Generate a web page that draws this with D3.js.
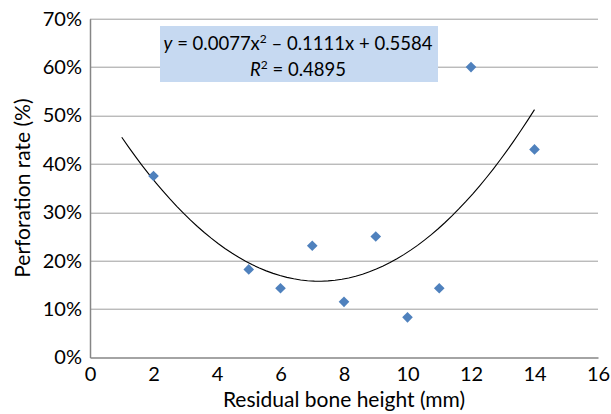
<!DOCTYPE html>
<html>
<head>
<meta charset="utf-8">
<script src="https://cdn.jsdelivr.net/npm/d3@7"></script>
<style>
  body { margin: 0; background: #fff; }
  text { font-family: Lato, "Open Sans", sans-serif; fill: #000; }
</style>
</head>
<body>
<figure id="chart" style="margin:0"></figure>
<script>
// residual bone height (mm) and perforation rate
var heights = [2, 5, 6, 7, 8, 9, 10, 11, 12, 14];
var rates = [0.375, 0.182, 0.143, 0.231, 0.115, 0.25, 0.083, 0.143, 0.60, 0.43];
var xTicks = [0, 2, 4, 6, 8, 10, 12, 14, 16];
var yTicks = [0, 0.1, 0.2, 0.3, 0.4, 0.5, 0.6, 0.7];
// trendline coefficients (a x^2 + b x + c) and drawn range
var trendCoef = [0.0077, -0.1111, 0.5584];
var trendRange = [1, 14];
var trendSteps = 60;

var dimensions = {
    width: 611,
    height: 414,
    margin: { top: 18.7, right: 13, bottom: 56.5, left: 90 },
};
dimensions.boundedWidth = dimensions.width - dimensions.margin.left - dimensions.margin.right;
dimensions.boundedHeight = dimensions.height - dimensions.margin.top - dimensions.margin.bottom;

var root = d3.select("figure#chart")
    .append("svg")
    .attr("width", dimensions.width)
    .attr("height", dimensions.height);

var svg = root.append("g")
    .attr("transform", `translate(${dimensions.margin.left},${dimensions.margin.top})`);

var xScale = d3.scaleLinear().domain([0, 16]).range([0, dimensions.boundedWidth]);
var yScale = d3.scaleLinear().domain([0, 0.7]).range([dimensions.boundedHeight, 0]);

// gridlines
svg.selectAll("line.grid")
    .data(yTicks.filter(d => d > 0))
    .enter()
    .append("line")
    .attr("class", "grid")
    .attr("x1", 0)
    .attr("x2", dimensions.boundedWidth)
    .attr("y1", d => Math.round(yScale(d)) + 0.5)
    .attr("y2", d => Math.round(yScale(d)) + 0.5)
    .attr("stroke", "#9d9d9d")
    .attr("stroke-width", 1);

// axes
var yAxis = svg.append("g")
    .call(d3.axisLeft(yScale).tickValues(yTicks).tickSize(0).tickPadding(8).tickFormat(d3.format(".0%")));
yAxis.select(".domain").attr("stroke", "#868686").attr("stroke-width", 1.5);
yAxis.selectAll("text").style("font-size", "20px").style("font-family", "Lato");

var xAxis = svg.append("g")
    .attr("transform", `translate(0,${dimensions.boundedHeight})`)
    .call(d3.axisBottom(xScale).tickValues(xTicks).tickSize(0).tickPadding(9));
xAxis.select(".domain").attr("stroke", "#868686").attr("stroke-width", 1.5);
xAxis.selectAll("text").style("font-size", "20px").style("font-family", "Lato");

// trendline
var trendData = d3.range(trendSteps + 1).map(function(i) {
    var x = trendRange[0] + (trendRange[1] - trendRange[0]) * i / trendSteps;
    return { x: x, y: trendCoef[0] * x * x + trendCoef[1] * x + trendCoef[2] };
});
svg.append("path")
    .datum(trendData)
    .attr("fill", "none")
    .attr("stroke", "#000")
    .attr("stroke-width", 1.1)
    .attr("d", d3.line().x(d => xScale(d.x)).y(d => yScale(d.y)));

// markers
svg.selectAll("path.pt")
    .data(heights)
    .enter()
    .append("path")
    .attr("class", "pt")
    .attr("d", d3.symbol().type(d3.symbolDiamond2).size(72))
    .attr("transform", (d, i) => `translate(${xScale(d)},${yScale(rates[i])})`)
    .attr("fill", "#4F81BD");

// equation label
var box = root.append("g");
box.append("rect")
    .attr("x", 160).attr("y", 26).attr("width", 278).attr("height", 56)
    .attr("fill", "#C6D9F1");
var eq = box.append("text")
    .attr("x", 298).attr("y", 50)
    .attr("text-anchor", "middle")
    .style("font-size", "18.5px");
eq.append("tspan").style("font-style", "italic").text("y");
eq.append("tspan").text(" = 0.0077x");
eq.append("tspan").attr("dy", -7).style("font-size", "12px").text("2");
eq.append("tspan").attr("dy", 7).text(" \u2013 0.1111x + 0.5584");
var r2 = box.append("text")
    .attr("x", 298).attr("y", 76)
    .attr("text-anchor", "middle")
    .style("font-size", "18.5px");
r2.append("tspan").style("font-style", "italic").text("R");
r2.append("tspan").attr("dy", -7).style("font-size", "12px").text("2");
r2.append("tspan").attr("dy", 7).text(" = 0.4895");

// axis titles
root.append("text")
    .attr("x", dimensions.margin.left + dimensions.boundedWidth / 2)
    .attr("y", 407)
    .attr("text-anchor", "middle")
    .style("font-size", "21px")
    .text("Residual bone height (mm)");

root.append("text")
    .attr("transform", `translate(30,${dimensions.margin.top + dimensions.boundedHeight / 2}) rotate(-90)`)
    .attr("text-anchor", "middle")
    .style("font-size", "21px")
    .text("Perforation rate (%)");
</script>
</body>
</html>
